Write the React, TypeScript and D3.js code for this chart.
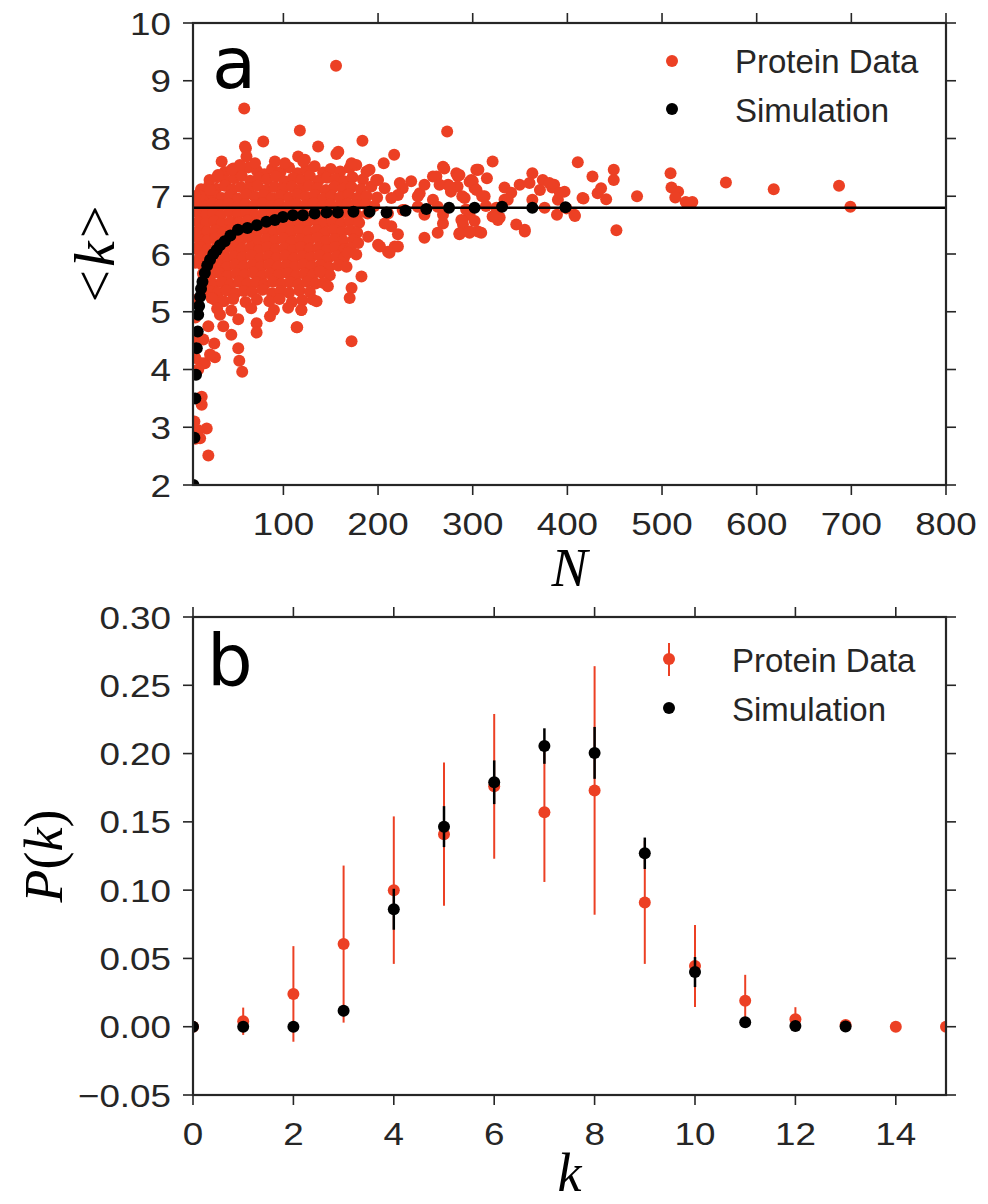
import React from "react";
import * as d3 from "d3";

// ---------- Panel a data ----------
// Simulation: mean degree <k> vs chain length N
const simN = [5, 6, 7, 7.7, 8.5, 9.5, 10, 11, 12, 13, 14.5, 17, 19.5, 22.5, 26, 29.5, 33, 38, 44, 52, 62, 72, 82, 91, 99.5, 110, 120.6, 133, 145.6, 157.5, 174, 191, 209, 229, 251, 275, 302, 331, 363, 398];
const simK = [2.0, 2.82, 3.5, 3.91, 4.37, 4.66, 4.95, 5.1, 5.26, 5.4, 5.52, 5.67, 5.8, 5.9, 6.0, 6.07, 6.15, 6.22, 6.32, 6.42, 6.45, 6.5, 6.56, 6.59, 6.64, 6.67, 6.67, 6.7, 6.72, 6.72, 6.73, 6.73, 6.72, 6.75, 6.78, 6.8, 6.8, 6.82, 6.8, 6.81];
const simAsymptote = 6.8;

// Protein data: dense core (N, <k>)
const proteinCore: [number, number][] = [
  [38,7.42],[47,7.48],[55,7.4],[63,7.5],[72,7.44],[80,7.38],[88,7.47],[97,7.42],[106,7.5],[115,7.4],[124,7.46],[133,7.52],[142,7.41],[150,7.47],[160,7.43],[170,7.49],
  [22,7.28],[30,7.33],[39,7.26],[48,7.31],[56,7.35],[65,7.27],[74,7.32],[83,7.29],[92,7.34],[101,7.26],[110,7.31],[119,7.28],[128,7.35],[137,7.27],[146,7.32],[155,7.3],[164,7.26],[173,7.33],[184,7.29],
  [13,7.12],[21,7.17],[29,7.13],[38,7.18],[46,7.12],[55,7.16],[64,7.14],[73,7.18],[82,7.11],[91,7.16],[100,7.13],[109,7.17],[118,7.12],[127,7.18],[136,7.14],[145,7.11],[154,7.17],[163,7.13],[172,7.16],[182,7.12],[193,7.17],
  [10,7.02],[18,6.98],[26,7.03],[35,6.97],[43,7.01],[52,6.96],[61,7.03],[70,6.99],[79,7.02],[88,6.97],[97,7.01],[106,6.98],[115,7.03],[124,6.99],[133,7.02],[142,6.96],[151,7.01],[160,6.98],[169,7.03],[178,6.97],[188,7.0],[199,6.98],
  [9,6.86],[17,6.83],[25,6.88],[33,6.84],[42,6.87],[51,6.82],[60,6.86],[69,6.84],[78,6.88],[87,6.83],[96,6.86],[105,6.82],[114,6.87],[123,6.84],[132,6.88],[141,6.83],[150,6.86],[159,6.82],[168,6.87],[177,6.84],[187,6.86],[196,6.83],
  [10,6.72],[18,6.68],[26,6.71],[34,6.67],[43,6.73],[52,6.69],[61,6.72],[70,6.67],[79,6.71],[88,6.68],[97,6.73],[106,6.69],[115,6.72],[124,6.66],[133,6.71],[142,6.68],[151,6.73],[160,6.69],[169,6.72],[178,6.67],[189,6.7],
  [10,6.56],[18,6.53],[27,6.57],[35,6.52],[44,6.56],[53,6.54],[62,6.58],[71,6.52],[80,6.56],[89,6.53],[98,6.57],[107,6.52],[116,6.56],[125,6.54],[134,6.58],[143,6.52],[152,6.56],[161,6.53],[170,6.57],[180,6.54],
  [11,6.42],[19,6.38],[28,6.41],[36,6.37],[45,6.42],[54,6.39],[63,6.41],[72,6.37],[81,6.42],[90,6.38],[99,6.41],[108,6.37],[117,6.42],[126,6.39],[135,6.41],[144,6.37],[153,6.42],[162,6.38],[171,6.41],[178,6.37],
  [11,6.26],[19,6.23],[28,6.27],[37,6.22],[46,6.26],[55,6.24],[64,6.28],[73,6.22],[82,6.26],[91,6.23],[100,6.27],[109,6.22],[118,6.26],[127,6.24],[136,6.28],[145,6.22],[154,6.26],[163,6.23],[174,6.25],
  [12,6.12],[20,6.08],[29,6.11],[38,6.07],[47,6.12],[56,6.09],[65,6.11],[74,6.07],[83,6.12],[92,6.08],[101,6.11],[110,6.07],[119,6.12],[128,6.09],[137,6.11],[146,6.07],[155,6.12],[164,6.08],[171,6.11],
  [12,5.96],[21,5.93],[30,5.97],[39,5.92],[48,5.96],[57,5.94],[66,5.98],[75,5.92],[84,5.96],[93,5.93],[102,5.97],[111,5.92],[120,5.96],[129,5.94],[138,5.98],[147,5.92],[156,5.96],[164,5.93],
  [14,5.82],[22,5.78],[31,5.81],[40,5.77],[49,5.82],[58,5.79],[67,5.81],[76,5.77],[85,5.82],[94,5.78],[103,5.81],[112,5.77],[121,5.82],[130,5.79],[139,5.81],[148,5.77],[158,5.8],
  [15,5.66],[23,5.63],[32,5.67],[41,5.62],[50,5.66],[59,5.64],[68,5.68],[77,5.62],[86,5.66],[95,5.63],[104,5.67],[113,5.62],[122,5.66],[131,5.64],[140,5.68],[149,5.63],
  [18,5.52],[26,5.48],[35,5.51],[44,5.47],[53,5.52],[62,5.49],[71,5.51],[80,5.47],[89,5.52],[98,5.48],[107,5.51],[116,5.47],[125,5.52],[134,5.49],[142,5.5],
  [22,5.36],[31,5.33],[40,5.37],[49,5.32],[58,5.36],[67,5.34],[78,5.38],[88,5.32],[97,5.36],[106,5.33],[117,5.37],[128,5.34],
  [27,5.21],[37,5.18],[47,5.22],[60,5.17],[72,5.21],[85,5.18],[96,5.22],[109,5.17],[120,5.2],
  [30,5.05],[45,5.02],[66,5.06],[90,5.03],[105,5.07],[119,5.03],
];

// Protein data: sparse points around the core
const proteinSparse: [number, number][] = [
  [155.6,9.26],[58.6,8.52],[117.4,8.14],[183.5,7.96],[78.7,7.95],[59.4,7.86],[60.4,7.83],[136.7,7.86],[158,7.77],[156,7.73],[115.6,7.69],[61,7.69],[122.7,7.63],[121,7.6],[91,7.6],[101.6,7.57],[70,7.57],[54,7.54],[177,7.54],[172,7.57],[34.8,7.6],[31,7.37],[45.4,7.46],[22.5,7.11],[12,7.0],[187.8,7.43],[198,7.28],
  [217,7.72],[206,7.57],[273,8.12],[268.6,7.51],[258,7.34],[261.6,7.34],[270,7.48],[282.7,7.4],[284,7.35],[305,7.46],[315,7.31],[298.5,7.28],[302,7.14],[274,7.2],[277,7.08],[265,7.2],[235,7.26],[226,7.14],[244,7.05],[258,6.94],[263,6.82],[291.5,6.97],[312.6,7.0],[333.6,7.15],[349.6,7.2],[363,7.4],[386,7.2],[397,7.08],[333.6,6.94],[340.7,7.06],[374,7.28],[384,7.15],[390,6.94],[407.5,6.68],[389,6.68],
  [325,6.71],[326.6,6.59],[296.7,6.68],[302,6.57],[289.7,6.51],[309,6.37],[296.7,6.37],[286,6.34],[268.6,6.53],[263,6.37],[249,6.28],[346,6.51],[355,6.39],[221,6.34],[210.5,6.04],[217.6,6.13],[200,6.16],[214,6.48],[207,6.53],[242,6.82],[228,6.76],[189.5,6.3],[179,6.19],[177,5.99],[168,6.02],[166.7,5.78],[182.5,5.61],[172,5.41],[170,5.24],[172,4.49],[147,5.44],[138.5,5.7],[131,5.21],[119,5.03],[114.6,4.73],[135,5.18],
  [191,7.46],[200,7.28],[207,7.14],[223,7.23],[221,7.02],[214,6.97],[210.5,6.7],[226,6.76],[242,7.0],[249,7.2],[249,6.68],[268.6,6.68],[288,6.59],[305.5,6.39],[221,6.13],[212,6.02],[202,6.13],[296.7,7.25],[303.8,7.46],
  [321,7.6],[411,7.59],[449,7.46],[449,7.28],[509,7.4],[510,7.15],[517,7.08],[514,6.98],[525,6.9],[532,6.9],[567.5,7.24],[618,7.12],[687,7.18],[699,6.82],[473.6,7.0],[451.8,6.41],[426.5,7.34],[432,7.05],[441,6.95],[435.6,7.14],[417,6.96],[408,6.66],[399,6.79],[381,7.23],[360,7.23],[371,7.11],[392,7.06],[376,6.8],[363,6.94],[337,6.94],[328.5,6.63],[321,6.65],[306,7.46],[300,7.26],[304,7.11],[289,7.0],[286,7.37],[284,7.17],[310,7.0],[314,6.83],[293,6.77],[289,6.57],[355,6.42],[297,6.39],[286,6.36],[275.6,7.17],[325,6.8],[416,6.97],
  [20.7,2.51],[13.7,3.39],[13.7,3.53],[19,2.98],[10,2.95],[12,2.81],[17,4.11],[27.7,4.21],[22.5,4.26],[15.4,4.52],[20.7,4.75],[36.5,4.75],[33,4.95],[52.3,4.37],[53.4,4.15],[56.5,3.96],[71.7,4.8],[71.7,4.64],[52.3,4.87],[114,4.73],[13.7,4.11],[10,4.0],[24,5.24],[15.4,5.55],[85.8,4.92],[27,4.45],[45,4.6],
  [7,7.0],[7,6.37],[6,6.1],[7,5.85],[6,5.2],[7,4.9],[6,4.55],[7,4.2],[6,3.1],[7,2.8],
];

// ---------- Panel b data ----------
const kValues = [0, 1, 2, 3, 4, 5, 6, 7, 8, 9, 10, 11, 12, 13, 14, 15];
const proteinP = [0, 0.004, 0.024, 0.0605, 0.1, 0.141, 0.176, 0.157, 0.173, 0.091, 0.0445, 0.019, 0.0055, 0.0012, 0, 0];
const proteinErr = [0, 0.01, 0.035, 0.0575, 0.054, 0.0525, 0.053, 0.051, 0.091, 0.045, 0.03, 0.019, 0.0088, 0.002, 0, 0];
const simKValues = [0, 1, 2, 3, 4, 5, 6, 7, 8, 9, 10, 11, 12, 13];
const simP = [0, 0, 0, 0.0117, 0.086, 0.1465, 0.179, 0.2055, 0.2005, 0.127, 0.04, 0.0032, 0.0005, 0.0002];
const simErr = [0, 0.001, 0.001, 0.004, 0.015, 0.015, 0.016, 0.013, 0.019, 0.0115, 0.011, 0.003, 0.001, 0.0005];

// ---------- Ticks ----------
const nTicks = [100, 200, 300, 400, 500, 600, 700, 800];
const kMeanTicks = [2, 3, 4, 5, 6, 7, 8, 9, 10];
const kTicks = [0, 2, 4, 6, 8, 10, 12, 14];
const pTicks = [-0.05, 0, 0.05, 0.1, 0.15, 0.2, 0.25, 0.3];

const RED = "#EC4024";
const AXIS = "#262626";
const TXT = "#262626";
const SANS = "'Liberation Sans', Arial, sans-serif";
const SERIF = "'Liberation Serif', 'DejaVu Serif', serif";

const L = 193, R = 946;
const xA = d3.scaleLinear().domain([4.5, 800]).range([L, R]);
const yA = d3.scaleLinear().domain([2, 10]).range([485, 23]);
const xB = d3.scaleLinear().domain([0, 15]).range([L, R]);
const yB = d3.scaleLinear().domain([-0.05, 0.3]).range([1095, 617]);

const fmtP = d3.format(".2f");
const TICK_FS = 32;
const TICK_SX = 1.15;

function Frame({ top, bottom, xs, ys, xTicks, yTicks, xFmt, yFmt }: any) {
  const tl = 10;
  return (
    <g>
      {xTicks.map((t: number) => (
        <g key={"xt" + t}>
          <line x1={xs(t)} x2={xs(t)} y1={bottom} y2={bottom + tl} stroke={AXIS} strokeWidth={1.6} />
          <line x1={xs(t)} x2={xs(t)} y1={top} y2={top - tl} stroke={AXIS} strokeWidth={1.6} />
          <text transform={`translate(${xs(t)},${bottom + 50}) scale(${TICK_SX},1)`} textAnchor="middle" fontFamily={SANS} fontSize={TICK_FS} fill={TXT}>{xFmt(t)}</text>
        </g>
      ))}
      {yTicks.map((t: number) => (
        <g key={"yt" + t}>
          <line x1={L} x2={L - tl} y1={ys(t)} y2={ys(t)} stroke={AXIS} strokeWidth={1.6} />
          <line x1={R} x2={R + tl} y1={ys(t)} y2={ys(t)} stroke={AXIS} strokeWidth={1.6} />
          <text transform={`translate(171,${ys(t) + 11.5}) scale(${TICK_SX},1)`} textAnchor="end" fontFamily={SANS} fontSize={TICK_FS} fill={TXT}>{yFmt(t)}</text>
        </g>
      ))}
      <rect x={L} y={top} width={R - L} height={bottom - top} fill="none" stroke={AXIS} strokeWidth={2.2} />
    </g>
  );
}

export default function App() {
  const r = 6;
  const allProtein = [...proteinCore, ...proteinSparse];
  return (
    <svg width={988} height={1204} style={{ position: "absolute", left: 0, top: 0, background: "#fff" }}>
      <defs>
        <clipPath id="clipA"><rect x={L} y={23} width={R - L} height={485 - 23} /></clipPath>
        <clipPath id="clipB"><rect x={L} y={617} width={R - L} height={1095 - 617} /></clipPath>
      </defs>
      <rect x={0} y={0} width={988} height={1204} fill="#fff" />

      {/* ---------- Panel a ---------- */}
      <g clipPath="url(#clipA)">
        {allProtein.map(([n, k], i) => (
          <circle key={"p" + i} cx={xA(n)} cy={yA(k)} r={r} fill={RED} />
        ))}
        <line x1={L} x2={R} y1={yA(simAsymptote)} y2={yA(simAsymptote)} stroke="#000" strokeWidth={2.5} />
        {simN.map((n, i) => (
          <circle key={"s" + i} cx={xA(n)} cy={yA(simK[i])} r={r} fill="#000" />
        ))}
      </g>
      <Frame top={23} bottom={485} xs={xA} ys={yA} xTicks={nTicks} yTicks={kMeanTicks} xFmt={(t: number) => String(t)} yFmt={(t: number) => String(t)} />
      <text x={212} y={88} fontFamily="'DejaVu Sans', sans-serif" fontSize={72} fill="#000">a</text>
      {/* legend a */}
      <circle cx={672} cy={61} r={r} fill={RED} />
      <text x={735} y={73} fontFamily={SANS} fontSize={33} fill={TXT}>Protein Data</text>
      <circle cx={672} cy={109} r={r} fill="#000" />
      <text x={735} y={122} fontFamily={SANS} fontSize={33} fill={TXT}>Simulation</text>
      {/* axis labels a */}
      <text x={(L + R) / 2} y={586} textAnchor="middle" fontFamily={SERIF} fontStyle="italic" fontSize={54} fill="#000">N</text>
      <text transform={`translate(114,${(23 + 485) / 2}) rotate(-90)`} textAnchor="middle" fontFamily={SERIF} fontSize={58} fill="#000">
        <tspan>&lt;</tspan><tspan dx={3} fontStyle="italic">k</tspan><tspan dx={3}>&gt;</tspan>
      </text>

      {/* ---------- Panel b ---------- */}
      <g clipPath="url(#clipB)">
        {kValues.map((k, i) => (
          <g key={"pe" + i}>
            {proteinErr[i] > 0 && (
              <line x1={xB(k)} x2={xB(k)} y1={yB(proteinP[i] - proteinErr[i])} y2={yB(proteinP[i] + proteinErr[i])} stroke={RED} strokeWidth={2} />
            )}
            <circle cx={xB(k)} cy={yB(proteinP[i])} r={r} fill={RED} />
          </g>
        ))}
        {simKValues.map((k, i) => (
          <g key={"se" + i}>
            {simErr[i] > 0 && (
              <line x1={xB(k)} x2={xB(k)} y1={yB(simP[i] - simErr[i])} y2={yB(simP[i] + simErr[i])} stroke="#000" strokeWidth={2.5} />
            )}
            <circle cx={xB(k)} cy={yB(simP[i])} r={r} fill="#000" />
          </g>
        ))}
      </g>
      <Frame top={617} bottom={1095} xs={xB} ys={yB} xTicks={kTicks} yTicks={pTicks} xFmt={(t: number) => String(t)} yFmt={(t: number) => fmtP(t)} />
      <text x={207} y={685} fontFamily="'DejaVu Sans', sans-serif" fontSize={72} fill="#000">b</text>
      {/* legend b */}
      <line x1={669} x2={669} y1={643} y2={676} stroke={RED} strokeWidth={2} />
      <circle cx={669} cy={659} r={r} fill={RED} />
      <text x={732} y={672} fontFamily={SANS} fontSize={33} fill={TXT}>Protein Data</text>
      <circle cx={669} cy={708} r={r} fill="#000" />
      <text x={732} y={721} fontFamily={SANS} fontSize={33} fill={TXT}>Simulation</text>
      {/* axis labels b */}
      <text x={(L + R) / 2} y={1191} textAnchor="middle" fontFamily={SERIF} fontStyle="italic" fontSize={54} fill="#000">k</text>
      <text transform={`translate(62,${(617 + 1095) / 2}) rotate(-90)`} textAnchor="middle" fontFamily={SERIF} fontSize={54} fill="#000">
        <tspan fontStyle="italic">P</tspan><tspan>(</tspan><tspan fontStyle="italic">k</tspan><tspan>)</tspan>
      </text>
    </svg>
  );
}
